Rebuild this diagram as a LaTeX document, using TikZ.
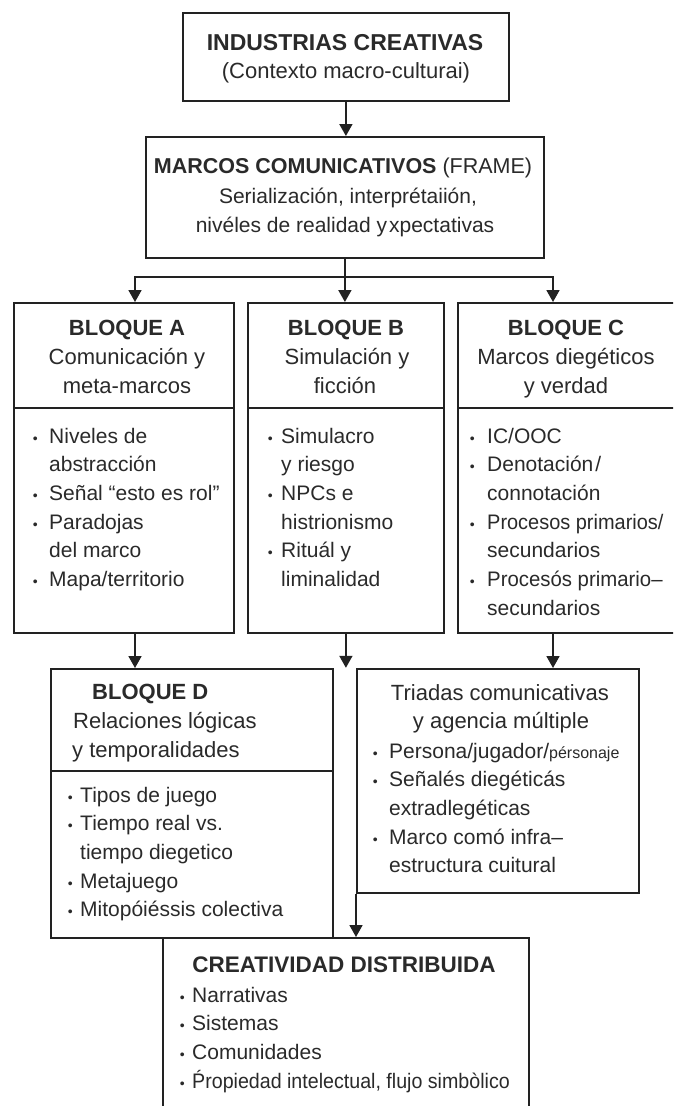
\documentclass[tikz,border=0pt]{standalone}
\usepackage{fontspec}
\usepackage{graphicx}
\setmainfont{Liberation Sans}
\usetikzlibrary{arrows.meta,calc}
\definecolor{ink}{HTML}{222222}
\definecolor{txt}{HTML}{2A2A2A}
\newcommand{\hdf}{\fontsize{22}{26}\selectfont\bfseries}
\newcommand{\sbf}{\fontsize{22}{26}\selectfont}
\newcommand{\bdf}{\fontsize{21}{25}\selectfont}
\newcommand{\bul}[1][10]{\llap{{\fontsize{14}{14}\selectfont •}\hspace{#1pt}}}
\begin{document}
\begin{tikzpicture}[x=1pt,y=-1pt,
  box/.style={draw=ink,line width=1.8pt,inner sep=0pt,anchor=north west},
  ln/.style={draw=ink,line width=1.8pt},
  arr/.style={draw=ink,line width=1.8pt,-{Triangle[width=13pt,length=12pt]}},
  hd/.style={font=\hdf,text=txt,inner sep=0pt,anchor=base},
  sb/.style={font=\sbf,text=txt,inner sep=0pt,anchor=base},
  bl/.style={font=\bdf,text=txt,inner sep=0pt,anchor=base west},
]
\useasboundingbox (0,0) rectangle (673,1106);
\clip (0,0) rectangle (673,1106);
\fill[white] (0,0) rectangle (673,1106);

% boxes
\node[box,minimum width=326pt,minimum height=88pt] (top) at (182,12) {};
\node[box,minimum width=398pt,minimum height=121pt] (mar) at (145,136) {};
\node[box,minimum width=220pt,minimum height=330pt] (bA) at (13,302) {};
\node[box,minimum width=196pt,minimum height=330pt] (bB) at (247,302) {};
\node[box,minimum width=232pt,minimum height=330pt] (bC) at (457,302) {};
\node[box,minimum width=282pt,minimum height=269pt] (bD) at (50,668) {};
\node[box,minimum width=282pt,minimum height=224pt] (tri) at (356,668) {};
\node[box,minimum width=366pt,minimum height=200pt] (cre) at (162,937) {};

% header dividers
\draw[ln] (13,408) -- (233,408);
\draw[ln] (247,408) -- (443,408);
\draw[ln] (457,408) -- (690,408);
\draw[ln] (50,771) -- (332,771);

% connectors
\draw[arr] (top.south) -- (top.south |- mar.north);
\coordinate (split) at ($(mar.south)+(0,18)$);
\draw[arr] (mar.south) -- (mar.south |- bB.north);
\draw[arr] (split) -| ($(bA.north west)+(122,0)$);
\draw[arr] (split) -| ($(bC.north west)+(96,0)$);
\draw[arr] ($(bA.south west)+(122,0)$) -- ($(bD.north west)+(85,0)$);
\coordinate (bEnd) at ($(bB.south)+(0,34)$);
\draw[arr] (bB.south) -- (bEnd);
\draw[arr] ($(bC.south west)+(96,0)$) -- ($(tri.north west)+(197,0)$);
\draw[arr] (tri.south west) -- (tri.south west |- cre.north);

% top
\node[hd,font=\fontsize{23}{26}\selectfont\bfseries] (t1) at (345,50) {INDUSTRIAS CREATIVAS};
\node[sb] (t2) at (346,78) {(Contexto macro-culturai)};

% marcos
\node[hd,font=\fontsize{21.5}{26}\selectfont\bfseries] (m1) at (343,173) {MARCOS COMUNICATIVOS \mdseries(FRAME)};
\node[sb,font=\bdf] (m2) at (348,203) {Serialización, interprétaiión,};
\node[sb,font=\bdf] (m3) at (345,232) {nivéles de realidad y\kern2pt xpectativas};

% bloque A
\node[hd] (a0) at (127,335) {BLOQUE A};
\node[sb] (a01) at (127,364) {Comunicación y};
\node[sb] (a02) at (127,393) {meta-marcos};
\node[bl] (a1) at (49,443) {\bul[11.5]Niveles de};
\node[bl] (a2) at (49,471.7) {abstracción};
\node[bl] (a3) at (49,500.4) {\bul[11.5]Señal “esto es rol”};
\node[bl] (a4) at (49,529.1) {\bul[11.5]Paradojas};
\node[bl] (a5) at (49,557.8) {del marco};
\node[bl] (a6) at (49,586.5) {\bul[11.5]Mapa/territorio};

% bloque B
\node[hd] (b0) at (346,335) {BLOQUE B};
\node[sb] (b01) at (347,364) {Simulación y};
\node[sb] (b02) at (345,393) {ficción};
\node[bl] (b1) at (281,443) {\bul[8.5]Simulacro};
\node[bl] (b2) at (281,471.7) {y riesgo};
\node[bl] (b3) at (281,500.4) {\bul[8.5]NPCs e};
\node[bl] (b4) at (281,529.1) {histrionismo};
\node[bl] (b5) at (281,557.8) {\bul[8.5]Rituál y};
\node[bl] (b6) at (281,586.5) {liminalidad};

% bloque C
\node[hd] (c0) at (566,335) {BLOQUE C};
\node[sb] (c01) at (566,364) {Marcos diegéticos};
\node[sb] (c02) at (566,393) {y verdad};
\node[bl] (c1) at (487,443) {\bul[12.5]IC/OOC};
\node[bl] (c2) at (487,471.7) {\bul[12.5]Denotación\kern2pt/};
\node[bl] (c3) at (487,500.4) {connotación};
\node[bl] (c4) at (487,529.1) {\bul[12.5]\scalebox{0.95}[1]{Procesos primarios/}};
\node[bl] (c5) at (487,557.8) {secundarios};
\node[bl] (c6) at (487,586.5) {\bul[12.5]\scalebox{0.97}[1]{Procesós primario–}};
\node[bl] (c7) at (487,615.2) {secundarios};

% bloque D
\node[hd,anchor=base west] (d0) at (92,699) {BLOQUE D};
\node[sb,anchor=base west] (d01) at (73,728) {Relaciones lógicas};
\node[sb,anchor=base west] (d02) at (72,757) {y temporalidades};
\node[bl] (d1) at (80,802) {\bul[7.5]Tipos de juego};
\node[bl] (d2) at (80,830.7) {\bul[7.5]Tiempo real vs.};
\node[bl] (d3) at (80,859.4) {tiempo diegetico};
\node[bl] (d4) at (80,888.1) {\bul[7.5]Metajuego};
\node[bl] (d5) at (80,916.8) {\bul[7.5]Mitopóiéssis colectiva};

% triadas
\node[sb] (r01) at (500,700) {Triadas comunicativas};
\node[sb] (r02) at (501,728) {y agencia múltiple};
\node[bl] (r1) at (389,758) {\bul[11.5]Persona/jugador/{\fontsize{16}{16}\selectfont pérsonaje}};
\node[bl] (r2) at (389,786.7) {\bul[11.5]Señalés diegéticás};
\node[bl] (r3) at (389,815.4) {extradlegéticas};
\node[bl] (r4) at (389,844.1) {\bul[11.5]Marco comó infra–};
\node[bl] (r5) at (389,872.8) {estructura cuitural};

% creatividad
\node[hd,font=\fontsize{22.5}{26}\selectfont\bfseries] (e0) at (344,972) {CREATIVIDAD DISTRIBUIDA};
\node[bl] (e1) at (192,1002) {\bul[7.5]Narrativas};
\node[bl] (e2) at (192,1030.7) {\bul[7.5]Sistemas};
\node[bl] (e3) at (192,1059.4) {\bul[7.5]Comunidades};
\node[bl] (e4) at (192,1088.1) {\bul[7.5]\scalebox{0.935}[1]{\'Propiedad intelectual, flujo simbòlico}};
\end{tikzpicture}
\end{document}
